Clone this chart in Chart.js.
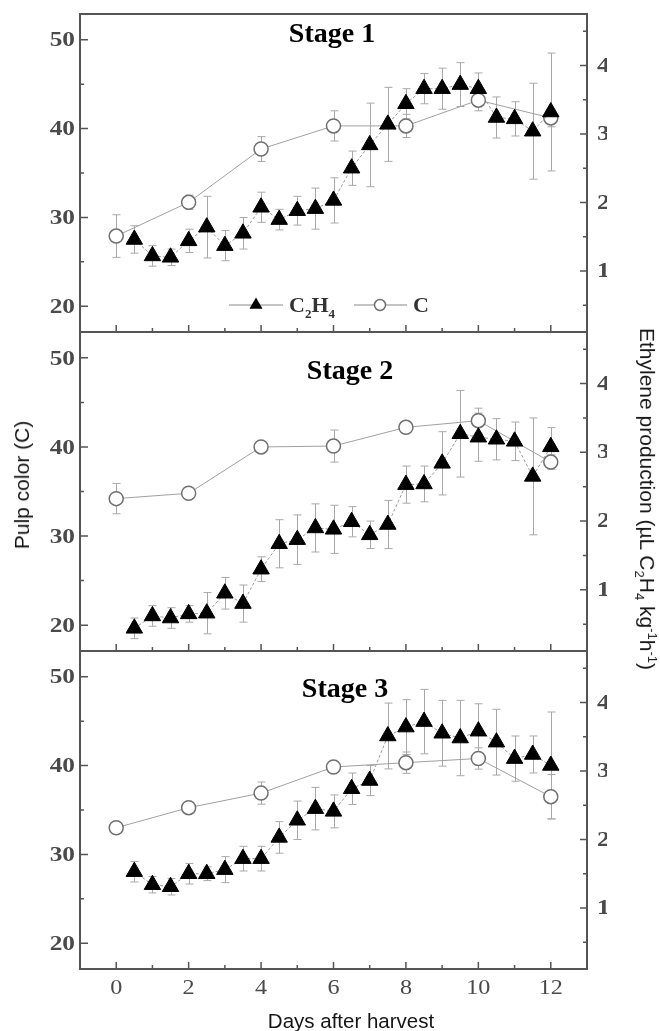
<!DOCTYPE html>
<html lang="en">
<head>
<meta charset="UTF-8">
<title>Pulp color and ethylene production</title>
<script src="https://cdn.jsdelivr.net/npm/chart.js"></script>
<style>
  body { margin: 0; background: #fff; }
  #wrap { position: relative; width: 660px; height: 1031px; }
  #wrap canvas { position: absolute; left: 0; top: 0; }
  .ttl { position: absolute; font-family: "Liberation Sans", Arial, sans-serif; font-size: 21px; color: #151515; white-space: nowrap; }
  .ttl sub, .ttl sup { font-size: 13px; }
</style>
</head>
<body>
<div id="wrap">
  <canvas id="p1" width="660" height="1031"></canvas>
  <canvas id="p2" width="660" height="1031"></canvas>
  <canvas id="p3" width="660" height="1031"></canvas>
  <div class="ttl" style="left:22px; top:485px; transform: translate(-50%,-50%) rotate(-90deg);">Pulp color (C)</div>
  <div class="ttl" style="left:646px; top:499px; transform: translate(-50%,-50%) rotate(90deg);">Ethylene production (µL C<sub>2</sub>H<sub>4</sub> kg<sup>-1</sup>h<sup>-1</sup>)</div>
  <div class="ttl" style="left:351px; top:1021px; font-size:20.5px; transform: translate(-50%,-50%);">Days after harvest</div>
</div>

<script>
// days of measurement
const colorDays = [0, 2, 4, 6, 8, 10, 12];
const ethDays = [0.5, 1, 1.5, 2, 2.5, 3, 3.5, 4, 4.5, 5, 5.5, 6, 6.5, 7, 7.5, 8, 8.5, 9, 9.5, 10, 10.5, 11, 11.5, 12];

// Stage 1
const s1Color = [27.9, 31.7, 37.7, 40.3, 40.3, 43.2, 41.2];
const s1ColorErr = [2.4, 0.8, 1.4, 1.7, 1.3, 1.2, 1.0];
const s1Eth = [1.46, 1.22, 1.20, 1.44, 1.64, 1.37, 1.55, 1.93, 1.75, 1.88, 1.91, 2.03, 2.50, 2.84, 3.14, 3.44, 3.66, 3.66, 3.72, 3.66, 3.24, 3.22, 3.04, 3.32];
const s1EthErr = [0.2, 0.15, 0.12, 0.17, 0.45, 0.22, 0.23, 0.22, 0.15, 0.21, 0.3, 0.33, 0.25, 0.61, 0.54, 0.22, 0.22, 0.3, 0.32, 0.23, 0.3, 0.25, 0.7, 0.86];

// Stage 2
const s2Color = [34.2, 34.8, 40.0, 40.1, 42.2, 42.95, 38.3];
const s2ColorErr = [1.7, 0.5, 0.6, 1.8, 0.5, 1.4, 0.8];
const s2Eth = [0.44, 0.62, 0.59, 0.65, 0.66, 0.95, 0.80, 1.30, 1.67, 1.73, 1.90, 1.88, 1.99, 1.80, 1.95, 2.53, 2.54, 2.84, 3.27, 3.22, 3.19, 3.16, 2.65, 3.08];
const s2EthErr = [0.15, 0.15, 0.15, 0.12, 0.3, 0.23, 0.27, 0.18, 0.35, 0.36, 0.35, 0.35, 0.22, 0.2, 0.35, 0.27, 0.26, 0.46, 0.63, 0.35, 0.3, 0.28, 0.85, 0.28];

// Stage 3
const s3Color = [33.0, 35.26, 36.9, 39.84, 40.33, 40.8, 36.5];
const s3ColorErr = [0.5, 0.5, 1.25, 0.5, 1.2, 1.2, 2.5];
const s3Eth = [1.53, 1.34, 1.31, 1.50, 1.50, 1.56, 1.72, 1.72, 2.03, 2.28, 2.45, 2.41, 2.74, 2.86, 3.51, 3.64, 3.72, 3.55, 3.48, 3.58, 3.42, 3.18, 3.24, 3.08];
const s3EthErr = [0.15, 0.12, 0.12, 0.15, 0.1, 0.19, 0.18, 0.18, 0.23, 0.28, 0.31, 0.24, 0.23, 0.22, 0.48, 0.4, 0.47, 0.48, 0.55, 0.4, 0.48, 0.33, 0.27, 0.78];

// tick labels
const xTicks = [0, 2, 4, 6, 8, 10, 12];
const xMinor = [1, 3, 5, 7, 9, 11];
const leftTicks = [20, 30, 40, 50];
const leftMinor = [25, 35, 45];
const rightTicks = [1, 2, 3, 4];
const rightMinor = [0.5, 1.5, 2.5, 3.5, 4.5];

// draw text stretched horizontally (the scanned figure is a bit wide)
function wideText(ctx, txt, x, y, sx, align) {
  ctx.save();
  ctx.translate(x, y);
  ctx.scale(sx, 1);
  ctx.textAlign = align;
  ctx.fillText(txt, 0, 0);
  ctx.restore();
}

const errorBars = {
  id: 'errorBars',
  beforeDatasetsDraw(chart) {
    const ctx = chart.ctx;
    chart.data.datasets.forEach((ds, i) => {
      const meta = chart.getDatasetMeta(i);
      const ys = chart.scales[ds.yAxisID];
      ctx.save();
      ctx.strokeStyle = '#a8a8a8';
      ctx.lineWidth = 1;
      ctx.beginPath();
      meta.data.forEach((pt, j) => {
        const v = ds.data[j].y, e = ds.errBars[j];
        const y1 = ys.getPixelForValue(v + e), y2 = ys.getPixelForValue(v - e);
        const x = Math.round(pt.x) + 0.5;
        ctx.moveTo(x, y1); ctx.lineTo(x, y2);
        ctx.moveTo(x - 4, y1); ctx.lineTo(x + 4, y1);
        ctx.moveTo(x - 4, y2); ctx.lineTo(x + 4, y2);
      });
      ctx.stroke();
      ctx.restore();
    });
  }
};

const deco = {
  id: 'deco',
  afterDatasetsDraw(chart, args, o) {
    const { ctx, chartArea: a, scales } = chart;
    ctx.save();
    // frame
    ctx.strokeStyle = '#555';
    ctx.lineWidth = 2;
    ctx.strokeRect(a.left, a.top, a.right - a.left, a.bottom - a.top);
    // inward ticks
    ctx.lineWidth = 1.5;
    ctx.beginPath();
    const tk = (vals, len, side) => vals.forEach(v => {
      if (side === 'l') { const y = scales.y.getPixelForValue(v); ctx.moveTo(a.left, y); ctx.lineTo(a.left + len, y); }
      if (side === 'r') { const y = scales.y2.getPixelForValue(v); ctx.moveTo(a.right, y); ctx.lineTo(a.right - len, y); }
      if (side === 'b') { const x = scales.x.getPixelForValue(v); ctx.moveTo(x, a.bottom); ctx.lineTo(x, a.bottom - len); }
    });
    tk(leftTicks, 8, 'l'); tk(leftMinor, 4, 'l');
    tk(rightTicks, 7, 'r'); tk(rightMinor, 4, 'r');
    tk(xTicks, 7, 'b'); tk(xMinor, 4, 'b');
    ctx.stroke();

    // tick labels
    ctx.fillStyle = '#4a4a4a';
    ctx.textBaseline = 'middle';
    ctx.font = 'bold 22px "Liberation Serif", serif';
    leftTicks.forEach(v => wideText(ctx, String(v), 75, scales.y.getPixelForValue(v) + 1, 1.15, 'right'));
    ctx.save();
    ctx.beginPath();
    ctx.rect(a.right, a.top - 20, 607 - a.right, a.bottom - a.top + 40);
    ctx.clip();
    ctx.font = 'bold 20px "Liberation Serif", serif';
    rightTicks.forEach(v => wideText(ctx, String(v), 597, scales.y2.getPixelForValue(v) + 1, 1.3, 'left'));
    ctx.restore();
    if (o.xLabels) {
      ctx.font = '21px "Liberation Serif", serif';
      xTicks.forEach(v => wideText(ctx, String(v), scales.x.getPixelForValue(v), a.bottom + 19, 1.15, 'center'));
    }

    // stage title
    ctx.fillStyle = '#000';
    ctx.font = 'bold 28px "Liberation Serif", serif';
    ctx.textAlign = 'center';
    ctx.fillText(o.title, o.tx, o.ty);

    // legend
    if (o.legend) {
      const ly = 305;
      ctx.strokeStyle = '#888';
      ctx.lineWidth = 1;
      ctx.beginPath();
      ctx.moveTo(229, ly); ctx.lineTo(283, ly);
      ctx.moveTo(354, ly); ctx.lineTo(407, ly);
      ctx.stroke();
      const r = 7.5;
      ctx.fillStyle = '#000';
      ctx.beginPath();
      ctx.moveTo(256, ly - r);
      ctx.lineTo(256 + r * 0.866, ly + r / 2);
      ctx.lineTo(256 - r * 0.866, ly + r / 2);
      ctx.closePath();
      ctx.fill();
      ctx.fillStyle = '#fff';
      ctx.strokeStyle = '#707070';
      ctx.lineWidth = 1.5;
      ctx.beginPath();
      ctx.arc(380, ly, 5.5, 0, Math.PI * 2);
      ctx.fill(); ctx.stroke();

      ctx.fillStyle = '#333';
      ctx.textAlign = 'left';
      ctx.textBaseline = 'alphabetic';
      let x = 289;
      const part = (t, size, dy) => {
        ctx.font = 'bold ' + size + 'px "Liberation Serif", serif';
        ctx.fillText(t, x, ly + 7 + dy);
        x += ctx.measureText(t).width;
      };
      part('C', 22, 0); part('2', 13, 6); part('H', 22, 0); part('4', 13, 6);
      ctx.font = 'bold 22px "Liberation Serif", serif';
      ctx.fillText('C', 413, ly + 7);
    }
    ctx.restore();
  }
};

function makePanel(id, top, bottom, color, colorErr, eth, ethErr, extra) {
  return new Chart(document.getElementById(id), {
    type: 'line',
    data: {
      datasets: [{
        label: 'C2H4',
        data: ethDays.map((d, i) => ({ x: d, y: eth[i] })),
        errBars: ethErr,
        yAxisID: 'y2',
        borderColor: '#9a9a9a',
        borderWidth: 1,
        borderDash: [3, 2],
        pointStyle: 'triangle',
        pointRadius: 9.5,
        pointBackgroundColor: '#000',
        pointBorderColor: '#000',
        pointBorderWidth: 1
      }, {
        label: 'C',
        data: colorDays.map((d, i) => ({ x: d, y: color[i] })),
        errBars: colorErr,
        yAxisID: 'y',
        borderColor: '#a0a0a0',
        borderWidth: 1,
        pointStyle: 'circle',
        pointRadius: 7,
        pointBackgroundColor: '#fff',
        pointBorderColor: '#707070',
        pointBorderWidth: 1.5
      }]
    },
    options: {
      responsive: false,
      animation: false,
      layout: { autoPadding: false, padding: { left: 80, right: 73, top: top, bottom: 1031 - bottom } },
      scales: {
        x: { type: 'linear', min: -1, max: 13, display: false },
        y: { min: 17.1, max: 52.9, display: false },
        y2: { min: 0.11, max: 4.75, display: false, position: 'right' }
      },
      plugins: {
        legend: { display: false },
        tooltip: { enabled: false },
        deco: extra
      }
    },
    plugins: [errorBars, deco]
  });
}

makePanel('p1', 14, 332, s1Color, s1ColorErr, s1Eth, s1EthErr, { title: 'Stage 1', tx: 332, ty: 35, legend: true, xLabels: false });
makePanel('p2', 332, 651, s2Color, s2ColorErr, s2Eth, s2EthErr, { title: 'Stage 2', tx: 350, ty: 372, legend: false, xLabels: false });
makePanel('p3', 651, 969, s3Color, s3ColorErr, s3Eth, s3EthErr, { title: 'Stage 3', tx: 345, ty: 690, legend: false, xLabels: true });
</script>
</body>
</html>
